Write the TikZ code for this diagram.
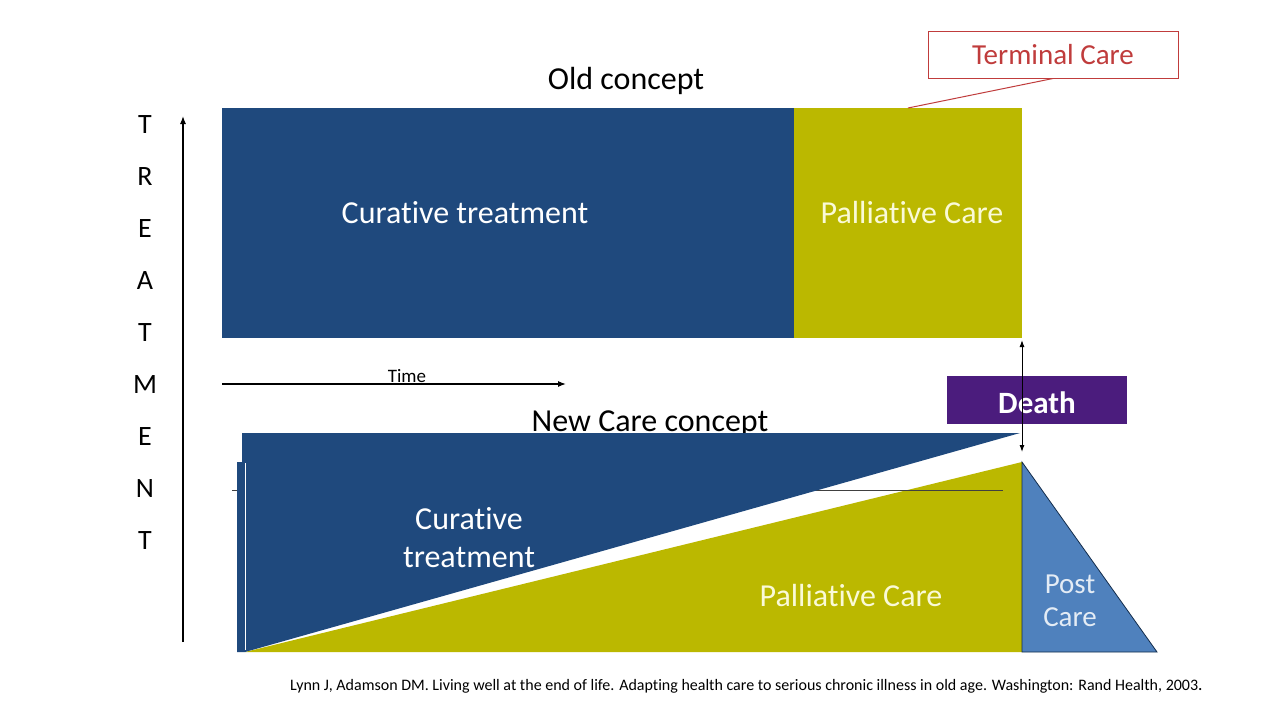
\documentclass[tikz,border=0pt]{standalone}
\usepackage{fontspec}
\setmainfont{Carlito}[Ligatures=NoCommon]
\usetikzlibrary{arrows.meta}
\definecolor{cblue}{RGB}{31,73,125}
\definecolor{colive}{RGB}{187,184,0}
\definecolor{cpurple}{RGB}{75,28,125}
\definecolor{cpost}{RGB}{79,129,189}
\definecolor{cred}{RGB}{192,60,60}
\definecolor{ccream}{RGB}{250,250,215}
\tikzset{
  lbl/.style={inner sep=0pt, anchor=center},
  big/.style={font=\fontsize{32}{32}\selectfont},
  axisletter/.style={lbl, font=\fontsize{28}{28}\selectfont},
  axarrow/.style={-{Latex[length=8pt,width=6pt]}, line width=1.2pt, black},
}
\begin{document}
\begin{tikzpicture}[x=1pt,y=-1pt]
\useasboundingbox (0,0) rectangle (1280,720);
\fill[white] (0,0) rectangle (1280,720);
% Old concept
\node[lbl, big] (oldt) at (626,81) {Old concept};
\fill[cblue] (222,108) rectangle (794,338);
\fill[colive] (794,108) rectangle (1022,338);
\node[lbl, white, big] (cur1) at (465,213) {Curative treatment};
\node[lbl, ccream, big] (pal1) at (912,213) {Palliative Care};
% Terminal care
\node[draw=cred, line width=1pt, minimum width=250pt, minimum height=47pt, inner sep=0pt,
      text=cred, font=\fontsize{29}{29}\selectfont] (term) at (1053,54.5) {Terminal Care};
\coordinate (tc) at (908,108);
\draw[cred, line width=1pt] (term.south) -- (tc);
% axis
\coordinate (ax0) at (183,642);
\coordinate (ax1) at (183,116);
\draw[axarrow] (ax0) -- (ax1);
\foreach \l [count=\i from 0] in {T,R,E,A,T,M,E,N,T}
  \node[axisletter] (ax\i) at (145,125+52*\i) {\l};
% time arrow
\coordinate (t0) at (222,384);
\coordinate (t1) at (566,384);
\draw[axarrow] (t0) -- (t1);
\node[lbl, font=\fontsize{19}{19}\selectfont] (time) at (407,376) {Time};
% New care concept
\node[lbl, big] (newt) at (650,424) {New Care concept};
\fill[colive] (245,652) -- (1022,462) -- (1022,652) -- cycle;
\draw[black!75, line width=1pt] (232,490) -- (1003,490);
\fill[cblue] (242,433) -- (1020,433) -- (245,652) -- (237,652) -- (237,462) -- (242,462) -- cycle;
\draw[white, line width=1pt] (245,463) -- (245,650);
\draw[cblue!60!black, line width=0.8pt, fill=cpost] (1022,462) -- (1157,652) -- (1022,652) -- cycle;
\node[lbl, white, big, align=center] (cur2) at (469,538) {Curative\\[6pt]treatment};
\node[lbl, ccream, big] (pal2) at (851,596) {Palliative Care};
\node[lbl, white!85!cpost, font=\fontsize{29}{29}\selectfont, align=center] (post) at (1070,601) {Post\\[4pt]Care};
% Death
\node[fill=cpurple, minimum width=180pt, minimum height=48pt, inner sep=0pt] (death) at (1037,400) {};
\node[lbl, text=white, font=\fontsize{31}{31}\selectfont\bfseries] (deathlbl) at (1037,403) {Death};
\coordinate (d0) at (1022,340);
\coordinate (d1) at (1022,452);
\draw[{Latex[length=7pt,width=5pt]}-{Latex[length=7pt,width=5pt]}, line width=1pt] (d0) -- (d1);
% citation
\node[lbl, anchor=west, font=\fontsize{16}{16}\selectfont] (cite) at (290,686) {Lynn J, Adamson DM. Living well at the end of life. Adapting health care to serious chronic illness in old age. Washington: Rand Health, 2003{\bfseries\Large .}};
\end{tikzpicture}
\end{document}
